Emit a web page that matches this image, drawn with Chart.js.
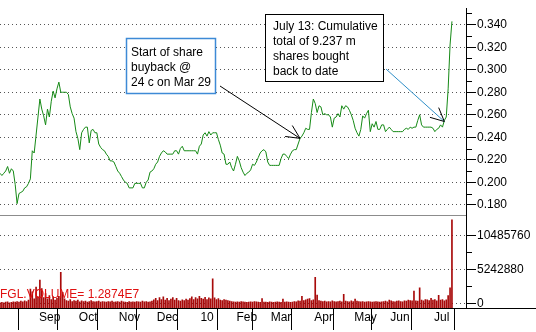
<!DOCTYPE html>
<html>
<head>
<meta charset="utf-8">
<script src="https://cdn.jsdelivr.net/npm/chart.js@4.4.1/dist/chart.umd.min.js"></script>
<style>
  html, body { margin: 0; padding: 0; background: #fff; }
</style>
</head>
<body>
<canvas id="myChart" width="536" height="332"></canvas>
<script>
// one value per trading session, Aug 2009 -> 13 Jul 2010
const price = [
  0.208, 0.206, 0.208, 0.210, 0.214, 0.208, 0.212, 0.210, 0.198, 0.181,
  0.190, 0.191, 0.192, 0.195, 0.196, 0.199, 0.203, 0.228, 0.226, 0.242,
  0.258, 0.274, 0.265, 0.259, 0.251, 0.265, 0.258, 0.272, 0.281, 0.275,
  0.283, 0.289, 0.280, 0.280, 0.280, 0.280, 0.278, 0.267, 0.261, 0.257,
  0.245, 0.239, 0.229, 0.244, 0.247, 0.249, 0.249, 0.235, 0.246, 0.247,
  0.244, 0.244, 0.234, 0.231, 0.229, 0.228, 0.225, 0.223, 0.219, 0.219,
  0.218, 0.214, 0.210, 0.208, 0.205, 0.202, 0.200, 0.199, 0.195, 0.195,
  0.195, 0.199, 0.199, 0.199, 0.199, 0.195, 0.195, 0.200, 0.202, 0.209,
  0.210, 0.212, 0.216, 0.218, 0.223, 0.226, 0.228, 0.227, 0.225, 0.225,
  0.225, 0.225, 0.228, 0.228, 0.225, 0.230, 0.232, 0.228, 0.228, 0.228,
  0.228, 0.228, 0.228, 0.228, 0.225, 0.232, 0.234, 0.242, 0.244, 0.241,
  0.245, 0.242, 0.244, 0.244, 0.244, 0.238, 0.233, 0.226, 0.225, 0.216,
  0.216, 0.218, 0.213, 0.210, 0.216, 0.223, 0.219, 0.213, 0.209, 0.206,
  0.208, 0.209, 0.211, 0.216, 0.215, 0.218, 0.222, 0.226, 0.228, 0.229,
  0.227, 0.218, 0.215, 0.215, 0.215, 0.215, 0.215, 0.215, 0.221, 0.225,
  0.225, 0.223, 0.221, 0.225, 0.228, 0.229, 0.229, 0.234, 0.239, 0.241,
  0.244, 0.248, 0.247, 0.247, 0.262, 0.274, 0.270, 0.262, 0.268, 0.267,
  0.260, 0.261, 0.260, 0.260, 0.258, 0.249, 0.257, 0.258, 0.261, 0.258,
  0.268, 0.265, 0.268, 0.267, 0.264, 0.260, 0.255, 0.248, 0.244, 0.241,
  0.247, 0.259, 0.257, 0.261, 0.264, 0.245, 0.252, 0.249, 0.254, 0.247,
  0.247, 0.251, 0.251, 0.245, 0.247, 0.249, 0.247, 0.245, 0.245, 0.245,
  0.245, 0.245, 0.245, 0.247, 0.248, 0.247, 0.249, 0.248, 0.249, 0.249,
  0.255, 0.260, 0.251, 0.249, 0.249, 0.249, 0.249, 0.249, 0.248, 0.245,
  0.247, 0.248, 0.251, 0.249, 0.255, 0.258, 0.283, 0.322, 0.343
];

// daily volume, thousands of shares
const volumeK = [
  100, 150, 80, 200, 250, 100, 150, 250, 200, 300, 200, 350, 250, 400, 300, 500, 2200, 1800, 700, 2500,
  1000, 3600, 2300, 900, 1500, 700, 1200, 600, 1000, 500, 800, 1100, 4800, 1700, 700, 450, 350, 600, 300, 450,
  350, 500, 250, 400, 300, 350, 200, 300, 450, 300, 250, 300, 350, 200, 300, 250, 200, 300, 250, 350,
  200, 250, 300, 200, 350, 250, 200, 150, 300, 200, 250, 200, 300, 250, 200, 350, 250, 300, 200, 250,
  350, 550, 800, 450, 900, 600, 1000, 500, 800, 450, 650, 900, 500, 800, 450, 350, 550, 450, 650, 500,
  750, 1000, 600, 900, 700, 1100, 800, 650, 950, 600, 850, 700, 3800, 850, 600, 750, 500, 450, 600, 500,
  450, 350, 300, 250, 200, 250, 200, 300, 250, 200, 150, 200, 250, 200, 300, 250, 200, 150, 750, 200,
  200, 150, 250, 200, 150, 200, 250, 200, 150, 650, 200, 250, 200, 150, 200, 300, 250, 400, 350, 1100,
  450, 550, 650, 750, 450, 550, 4000, 1300, 450, 350, 300, 350, 250, 300, 250, 400, 300, 250, 300, 350,
  250, 1400, 350, 300, 250, 400, 300, 650, 350, 300, 250, 300, 200, 250, 300, 250, 200, 250, 300, 250,
  200, 250, 300, 350, 250, 500, 400, 300, 250, 350, 400, 300, 250, 400, 350, 500, 450, 400, 1900, 400,
  350, 2400, 500, 400, 600, 550, 450, 800, 500, 600, 400, 1250, 500, 600, 400, 550, 1200, 2400, 12874
];

// session index of the first trading day of each month
const monthDay = [20, 41, 62, 82, 105, 124, 142, 165, 186, 205, 228];
const monthLabels = ['Sep', 'Oct', 'Nov', 'Dec', '10', 'Feb', 'Mar', 'Apr', 'May', 'Jun', 'Jul'];

const priceTicks = [0.18, 0.20, 0.22, 0.24, 0.26, 0.28, 0.30, 0.32, 0.34];
const priceMinor = [0.19, 0.21, 0.23, 0.25, 0.27, 0.29, 0.31, 0.33, 0.35];
const volumeTicks = [0, 5242880, 10485760];
const volumeMinor = [2621440, 7864320];

const FONT = '"Liberation Sans", Arial, sans-serif';
const VOL_MIN = -704000;

const extras = {
  id: 'extras',
  afterDraw(chart) {
    const ctx = chart.ctx;
    const area = chart.chartArea;
    const x = chart.scales.x, yP = chart.scales.yP, yV = chart.scales.yV;
    ctx.save();

    // panel separator
    ctx.strokeStyle = '#8c8c8c';
    ctx.lineWidth = 1;
    ctx.beginPath();
    ctx.moveTo(area.left, Math.round(yV.top) + 0.5);
    ctx.lineTo(area.right, Math.round(yV.top) + 0.5);
    ctx.stroke();

    // x axis line carries on under the right axis
    ctx.strokeStyle = '#000';
    ctx.beginPath();
    ctx.moveTo(area.right, Math.round(area.bottom) + 0.5);
    ctx.lineTo(chart.width, Math.round(area.bottom) + 0.5);
    ctx.stroke();

    // minor ticks
    ctx.beginPath();
    priceMinor.forEach(v => {
      const py = Math.round(yP.getPixelForValue(v)) + 0.5;
      if (py < yP.top || py > yP.bottom) return;
      ctx.moveTo(yP.left, py); ctx.lineTo(yP.left + 6, py);
    });
    volumeMinor.forEach(v => {
      const py = Math.round(yV.getPixelForValue(v)) + 0.5;
      ctx.moveTo(yV.left, py); ctx.lineTo(yV.left + 6, py);
    });
    ctx.stroke();

    // volume caption
    ctx.font = '12px ' + FONT;
    ctx.fillStyle = '#e01010';
    ctx.textBaseline = 'alphabetic';
    ctx.fillText('FGL.VOLUME= 1.2874E7', 0, 298);

    // annotations
    function box(x0, y0, w, h, color, lw, lines, tx, ty) {
      ctx.fillStyle = '#fff';
      ctx.fillRect(x0, y0, w, h);
      ctx.strokeStyle = color;
      ctx.lineWidth = lw;
      ctx.strokeRect(x0, y0, w, h);
      ctx.fillStyle = '#000';
      lines.forEach((t, i) => ctx.fillText(t, tx, ty + i * 15));
    }
    function arrow(x1, y1, x2, y2, color) {
      ctx.lineWidth = 1;
      ctx.strokeStyle = color;
      ctx.beginPath(); ctx.moveTo(x1, y1); ctx.lineTo(x2, y2); ctx.stroke();
      const a = Math.atan2(y1 - y2, x1 - x2);
      ctx.strokeStyle = '#000';
      ctx.beginPath();
      [0.45, -0.45].forEach(d => {
        ctx.moveTo(x2, y2);
        ctx.lineTo(x2 + 15 * Math.cos(a + d), y2 + 15 * Math.sin(a + d));
      });
      ctx.stroke();
    }

    box(126.5, 38.5, 89, 55, '#3d8ad6', 1.5,
      ['Start of share', 'buyback @', '24 c on Mar 29'], 131, 56);
    arrow(220, 86, x.getPixelForValue(158), yP.getPixelForValue(0.239), '#000');

    box(265.5, 14.5, 118, 67, '#000', 1,
      ['July 13: Cumulative', 'total of 9.237 m', 'shares bought', 'back to date'], 273, 30);
    arrow(386, 69, x.getPixelForValue(234), yP.getPixelForValue(0.254), '#2f8fc8');

    ctx.restore();
  }
};

const ctx = document.getElementById('myChart').getContext('2d');
const myChart = new Chart(ctx, {
  data: {
    datasets: [{
      type: 'line',
      data: price.map((v, i) => ({x: i, y: v})),
      xAxisID: 'x',
      yAxisID: 'yP',
      borderColor: '#168a16',
      borderWidth: 1,
      pointRadius: 0,
      tension: 0
    }, {
      type: 'bar',
      data: volumeK.map((v, i) => ({x: i, y: v * 1000})),
      xAxisID: 'x',
      yAxisID: 'yV',
      backgroundColor: '#a80a0a',
      barThickness: 1,
      base: VOL_MIN
    }]
  },
  options: {
    responsive: false,
    animation: false,
    layout: {padding: 0},
    plugins: {legend: {display: false}, tooltip: {enabled: false}},
    scales: {
      x: {
        type: 'linear',
        position: 'bottom',
        min: 0,
        max: 245.4,
        offset: false,
        afterBuildTicks: s => { s.ticks = monthDay.map(v => ({value: v})); },
        afterFit: s => { s.height = 24; },
        ticks: {
          callback: (v, i) => monthLabels[i],
          align: 'start',
          labelOffset: 1,
          padding: -20,
          autoSkip: false,
          maxRotation: 0,
          color: '#000',
          font: {family: FONT, size: 12}
        },
        grid: {drawOnChartArea: false, tickLength: 22, tickColor: '#000', tickBorderDash: []},
        border: {color: '#000'}
      },
      yP: {
        type: 'linear',
        position: 'right',
        stack: 'panels',
        stackWeight: 212,
        min: 0.1713,
        max: 0.3547,
        afterBuildTicks: s => { s.ticks = priceTicks.map(v => ({value: v})); },
        afterFit: s => { s.width = 70; },
        ticks: {
          callback: v => v.toFixed(3),
          autoSkip: false,
          padding: 1,
          color: '#000',
          font: {family: FONT, size: 12}
        },
        grid: {color: '#555', tickColor: '#000', tickLength: 10, tickBorderDash: []},
        border: {color: '#000', dash: [1, 3]}
      },
      yV: {
        type: 'linear',
        position: 'right',
        stack: 'panels',
        stackWeight: 96,
        min: VOL_MIN,
        max: 13680000,
        afterBuildTicks: s => { s.ticks = volumeTicks.map(v => ({value: v})); },
        afterFit: s => { s.width = 70; },
        ticks: {
          callback: v => String(v),
          autoSkip: false,
          padding: 1,
          color: '#000',
          font: {family: FONT, size: 12}
        },
        grid: {color: '#555', tickColor: '#000', tickLength: 10, tickBorderDash: []},
        border: {color: '#000', dash: [1, 3]}
      }
    }
  },
  plugins: [extras]
});
</script>
</body>
</html>
